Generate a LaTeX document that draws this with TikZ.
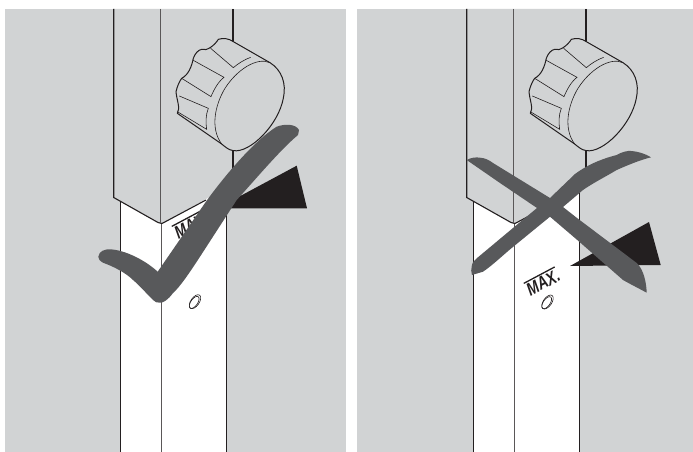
\documentclass[tikz,border=0pt]{standalone}
\usepackage{fontspec}
\setmainfont{Liberation Sans}
\usepackage{xcolor}
\usetikzlibrary{positioning}
\definecolor{panelgray}{HTML}{D1D3D4}
\definecolor{markgray}{HTML}{58595B}
\definecolor{wedgeblack}{HTML}{231F20}
\newcommand{\maxtext}{\scalebox{1}[1.3]{\vbox{\hrule height 1pt\kern 1.2pt\hbox{\bfseries\itshape MAX.}}}}
\tikzset{
  panelfill/.style={fill=panelgray, draw=none},
  tube/.style={fill=white, draw=none},
  postline/.style={draw=wedgeblack, line width=1.1pt},
  thinline/.style={draw=wedgeblack, line width=0.6pt},
  seamline/.style={draw=wedgeblack!75, line width=0.8pt},
  knobbody/.style={fill=panelgray, draw=wedgeblack, line width=1pt, line join=round},
  wedgefill/.style={fill=wedgeblack, draw=none},
  markfill/.style={fill=markgray, draw=none},
  maxlabel/.style={rotate=28, inner sep=0pt, font=\fontsize{14}{14}\selectfont, text=wedgeblack},
  post/.pic={
    % tube below the sleeve
    \fill[tube] (120.5,190) rectangle (226.5,452);
    \draw[postline] (120.5,190) -- (120.5,452);
    \draw[postline] (226.5,190) -- (226.5,452);
    \draw[seamline] (161.5,224) -- (161.5,452);
  },
  sleeve/.pic={
    \fill[panelfill] (113.7,9) -- (113.7,197.5) -- (158,222.5) -- (162,223.5) -- (233,184) -- (233,9) -- cycle;
    \draw[postline] (113.7,9) -- (113.7,197.5) -- (158,222.5) -- (162,223.5) -- (206,200);
    \draw[seamline] (160.3,9) -- (160.3,223);
    \draw[postline] (233,9) -- (233,170);
    % knob, traced in 3x units
    \begin{scope}[xshift=90pt, x=0.3333pt, y=-0.3333pt]
      \draw[knobbody] (385,118) .. controls (400,113) and (418,116) .. (430,125) -- (540,188)
        .. controls (575,210) and (590,250) .. (580,295)
        .. controls (565,375) and (480,460) .. (430,452)
        .. controls (415,450) and (405,440) .. (395,432) -- (262,340)
        .. controls (272,325) and (260,300) .. (258,275)
        .. controls (262,258) and (268,245) .. (275,235)
        .. controls (295,225) and (305,200) .. (310,175)
        .. controls (315,160) and (325,150) .. (335,148)
        .. controls (350,155) and (375,135) .. (385,118) -- cycle;
      \draw[thinline] (540,188) .. controls (500,170) and (440,210) .. (405,265)
        .. controls (375,315) and (360,385) .. (395,432);
      \draw[thinline] (362,145) -- (430,203) .. controls (445,190) and (465,178) .. (482,172);
      \draw[thinline] (308,180) -- (402,232) .. controls (385,245) and (372,268) .. (363,290) -- (275,235);
      \draw[thinline] (268,288) -- (355,325) .. controls (347,345) and (347,368) .. (350,388) -- (262,335);
    \end{scope}
  }
}
\begin{document}
\begin{tikzpicture}[x=1pt, y=-1pt]
\useasboundingbox (0,0) rectangle (693,452);
\fill[white] (0,0) rectangle (693,452);

% left panel
\fill[panelfill] (4.5,9) rectangle (346,452);
\pic {post};
\node[maxlabel, anchor=base west] (maxleft) at (178.5,239.5) {\maxtext};
\draw[thinline, rotate around={-35:(195,301.7)}] (195,301.7) ellipse (4.2 and 8);
\draw[thinline, rotate around={-35:(194.2,302.4)}] (194.2,302.4) ellipse (3.4 and 7);
\pic {sleeve};
\fill[wedgefill] (217,208.5) -- (296.7,165.7) -- (307,208.3) -- cycle;
\fill[markfill] (98.3,256.7) .. controls (99,251) and (105,249) .. (110,249.3)
  .. controls (125,250) and (145,260) .. (157.7,271.7)
  -- (205,203) .. controls (225,175) and (255,140) .. (276.7,126.7)
  .. controls (285,123.5) and (296,124) .. (299,130) -- (298,135)
  .. controls (280,150) and (255,180) .. (236.7,200)
  -- (200,256.7) .. controls (190,272) and (180,287) .. (173,293)
  .. controls (168,300) and (163,303) .. (160,302.7)
  .. controls (157,303) and (155,302) .. (153,300)
  .. controls (145,292) and (140,286) .. (133,280)
  .. controls (125,272) and (112,266) .. (103,262.7)
  .. controls (100,261) and (98,259) .. (98.3,256.7) -- cycle;

% right panel
\fill[panelfill] (357,9) rectangle (693,452);
\begin{scope}[xshift=353pt]
  \pic {post};
\end{scope}
\node[maxlabel, anchor=base west] (maxright) at (530.5,296.5) {\maxtext};
\draw[thinline, rotate around={-35:(547.5,302)}] (547.5,302) ellipse (4.2 and 8);
\draw[thinline, rotate around={-35:(546.7,302.7)}] (546.7,302.7) ellipse (3.4 and 7);
\begin{scope}[xshift=353pt]
  \pic {sleeve};
\end{scope}
\fill[wedgefill] (570,266) -- (649,222) -- (660.7,265) -- cycle;
\fill[markfill] (466.7,160) .. controls (471,157.5) and (476,157) .. (480,157.7)
  .. controls (485,158) and (489,160) .. (493,163)
  -- (550,198) -- (575,174)
  .. controls (590,163) and (605,158) .. (616.7,155)
  .. controls (622,152) and (627,150.5) .. (631.7,151)
  .. controls (638,151.5) and (646,154) .. (651,157.3)
  .. controls (640,160) and (628,165) .. (616.7,170)
  .. controls (605,177) and (593,183) .. (583,190)
  -- (563,207) -- (577,218)
  -- (636.7,263) .. controls (641,267) and (646,276) .. (646.7,292.7)
  .. controls (638,288) and (630,284) .. (623,280)
  -- (576.7,239.5) -- (550,216.7) -- (513.3,246.7)
  .. controls (503,255) and (493,265) .. (483,271.7)
  .. controls (479,273) and (475,274) .. (472,275)
  .. controls (471,272) and (471,269) .. (471.7,266.7)
  .. controls (472,263) and (474,260) .. (476.7,258.3)
  -- (537,208) -- (500,183) -- cycle;
\end{tikzpicture}
\end{document}
